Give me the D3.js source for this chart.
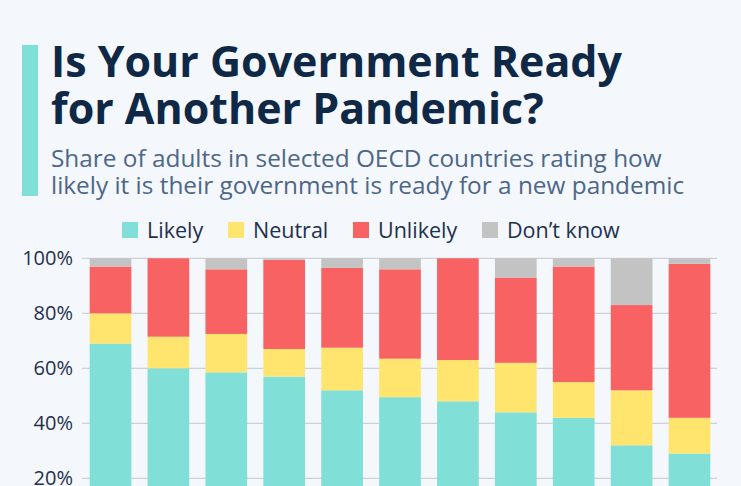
<!DOCTYPE html>
<html>
<head>
<meta charset="utf-8">
<script src="https://cdn.jsdelivr.net/npm/d3@7"></script>
<style>
  html, body { margin: 0; padding: 0; background: #f4f7fb; }
  svg { display: block; }
</style>
</head>
<body>
<svg id="chart" width="741" height="486"></svg>
<script>
const categories = ["Finland", "Norway", "Denmark", "Iceland", "Netherlands", "Ireland", "Luxembourg", "Canada", "Korea", "Japan", "Latvia"];
const seriesNames = ["Likely", "Neutral", "Unlikely", "Don’t know"];
const likely   = [69, 60, 58.5, 57, 52, 49.5, 48, 44, 42, 32, 29];
const neutral  = [11, 11.5, 14, 10, 15.5, 14, 15, 18, 13, 20, 13];
const unlikely = [17, 28.5, 23.5, 32.5, 29, 32.5, 37, 31, 42, 31, 56];
const dontKnow = [3, 0, 4, 0.5, 3.5, 4, 0, 7, 3, 17, 2];
const yTicks = [0, 20, 40, 60, 80, 100];
const colors = ["#80dfd6", "#ffe46e", "#f86263", "#c3c3c3"];

const svg = d3.select("#chart");
const W = 741, H = 486;
svg.append("rect").attr("width", W).attr("height", H).attr("fill", "#f4f7fb");

// accent bar
svg.append("rect").attr("x", 22).attr("y", 45).attr("width", 16).attr("height", 151).attr("fill", "#80dfd6");

function fitText(sel, target) {
  const node = sel.node();
  const fs = parseFloat(sel.attr("font-size"));
  const w = node.getComputedTextLength();
  sel.attr("font-size", (fs * target / w).toFixed(2));
}

const titleFont = "'Open Sans', 'Noto Sans', sans-serif";
const t1 = svg.append("text").attr("x", 51).attr("y", 77).attr("font-family", titleFont)
  .attr("font-weight", 700).attr("font-size", 44).attr("fill", "#0f2846").text("Is Your Government Ready");
fitText(t1, 571);
const t2 = svg.append("text").attr("x", 51).attr("y", 124).attr("font-family", titleFont)
  .attr("font-weight", 700).attr("font-size", 44).attr("fill", "#0f2846").text("for Another Pandemic?");
t2.attr("font-size", t1.attr("font-size"));

const s1 = svg.append("text").attr("x", 51).attr("y", 167).attr("font-family", titleFont)
  .attr("font-size", 23).attr("fill", "#4d6788").text("Share of adults in selected OECD countries rating how");
fitText(s1, 611);
const s2 = svg.append("text").attr("x", 51).attr("y", 194).attr("font-family", titleFont)
  .attr("font-size", s1.attr("font-size")).attr("fill", "#4d6788").text("likely it is their government is ready for a new pandemic");

// legend
const legendX = [122, 228, 353, 482];
const lg = svg.append("g");
seriesNames.forEach((n, i) => {
  lg.append("rect").attr("x", legendX[i]).attr("y", 222).attr("width", 16).attr("height", 16).attr("fill", colors[i]);
  lg.append("text").attr("x", legendX[i] + 25).attr("y", 238).attr("font-family", titleFont)
    .attr("font-size", 21.5).attr("fill", "#1e3050").text(n);
});

// scales
const x = d3.scaleBand().domain(categories).range([83, 717]).paddingInner(0.28).paddingOuter(0.115);
const y = d3.scaleLinear().domain([0, 100]).range([533.3, 258.3]);

// gridlines
svg.append("g").selectAll("line").data(yTicks).join("line")
  .attr("x1", 82).attr("x2", 717).attr("y1", d => y(d)).attr("y2", d => y(d))
  .attr("stroke", "#c3c9cf").attr("stroke-width", 1);

// y axis labels
const yAxis = d3.axisLeft(y).tickValues(yTicks).tickFormat(d => d + "%").tickSize(0).tickPadding(9);
const ya = svg.append("g").attr("transform", "translate(82,0)").call(yAxis);
ya.select(".domain").remove();
ya.selectAll("text").attr("font-family", titleFont).attr("font-size", 20).attr("fill", "#1e3050");

// stacked data
const rows = categories.map((c, i) => ({
  country: c, Likely: likely[i], Neutral: neutral[i], Unlikely: unlikely[i], "Don’t know": dontKnow[i]
}));
const stack = d3.stack().keys(seriesNames)(rows);

svg.append("g").selectAll("g").data(stack).join("g")
  .attr("fill", (d, i) => colors[i])
  .selectAll("rect").data(d => d).join("rect")
  .attr("x", d => x(d.data.country))
  .attr("width", x.bandwidth())
  .attr("y", d => y(d[1]))
  .attr("height", d => Math.max(0, y(d[0]) - y(d[1])));

// category labels (below the visible area)
svg.append("g").selectAll("text").data(categories).join("text")
  .attr("x", d => x(d) + x.bandwidth() / 2).attr("y", 555)
  .attr("text-anchor", "middle").attr("font-family", titleFont).attr("font-size", 14)
  .attr("fill", "#1e3050").text(d => d);
</script>
</body>
</html>
